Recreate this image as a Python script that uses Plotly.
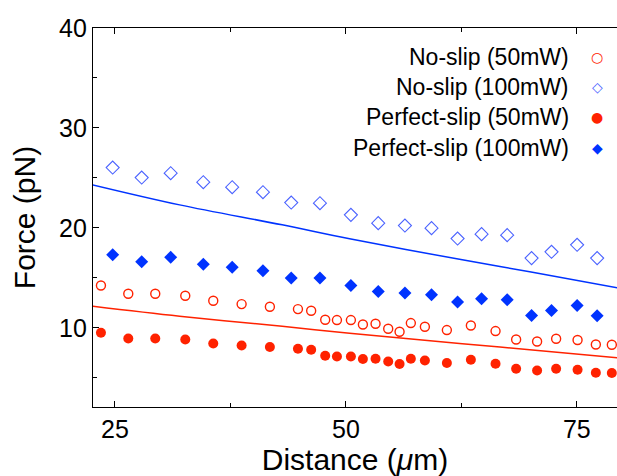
import plotly.graph_objects as go

# ---- data ----
dist_circ = [23.48, 26.44, 29.36, 32.61, 35.64, 38.71, 41.77, 44.81, 46.24, 47.76,
             49.03, 50.54, 51.84, 53.21, 54.58, 55.81, 57.03, 58.55, 60.93, 63.53,
             66.20, 68.43, 70.70, 72.76, 75.08, 77.06, 78.79]
noslip_50 = [14.23, 13.4, 13.4, 13.2, 12.7, 12.37, 12.1, 11.87, 11.7, 10.8,
             10.77, 10.77, 10.33, 10.4, 9.9, 9.6, 10.47, 10.1, 9.77, 10.23,
             9.67, 8.83, 8.63, 8.9, 8.77, 8.33, 8.3]
perfslip_50 = [9.5, 8.93, 8.93, 8.83, 8.43, 8.23, 8.07, 7.9, 7.8, 7.2,
               7.13, 7.13, 6.87, 6.9, 6.63, 6.37, 6.9, 6.73, 6.47, 6.8,
               6.4, 5.9, 5.73, 5.9, 5.8, 5.5, 5.47]

dist_diam = [24.75, 27.89, 31.03, 34.56, 37.69, 41.02, 44.08, 47.19, 50.54, 53.50,
             56.39, 59.27, 62.09, 64.69, 67.46, 70.10, 72.26, 75.03, 77.2]
noslip_100 = [26.03, 25.03, 25.47, 24.57, 24.07, 23.57, 22.53, 22.47, 21.3, 20.47,
              20.23, 19.97, 18.93, 19.37, 19.27, 16.97, 17.6, 18.3, 16.97]
perfslip_100 = [17.3, 16.6, 17.05, 16.35, 16.05, 15.7, 14.97, 14.97, 14.23, 13.63,
                13.47, 13.3, 12.57, 12.9, 12.8, 11.23, 11.73, 12.23, 11.2]

line_x = [22.6, 32.0, 43.1, 50.4, 62.6, 69.9, 79.4]
theory_100 = [24.3, 22.3, 20.3, 18.9, 16.8, 15.6, 14.0]
theory_50 = [12.15, 11.15, 10.15, 9.45, 8.4, 7.8, 7.0]

legend_labels = ["No-slip (50mW)", "No-slip (100mW)", "Perfect-slip (50mW)", "Perfect-slip (100mW)"]
legend_symbols = ["○", "◇", "●", "◆"]

RED = "#ff2200"
BLUE = "#0033ff"
LBLUE = "#4a62ff"
legend_colors = [RED, LBLUE, RED, BLUE]

fig = go.Figure()
fig.add_trace(go.Scatter(x=line_x, y=theory_100, mode="lines", line=dict(color=BLUE, width=1.5, shape="spline"), showlegend=False))
fig.add_trace(go.Scatter(x=line_x, y=theory_50, mode="lines", line=dict(color=RED, width=1.5, shape="spline"), showlegend=False))
fig.add_trace(go.Scatter(x=dist_diam, y=noslip_100, mode="markers",
                         marker=dict(symbol="diamond-open", size=10, color=LBLUE, line=dict(width=1.1, color=LBLUE)), showlegend=False))
fig.add_trace(go.Scatter(x=dist_diam, y=perfslip_100, mode="markers",
                         marker=dict(symbol="diamond", size=10, color=BLUE, line=dict(width=0)), showlegend=False))
fig.add_trace(go.Scatter(x=dist_circ, y=noslip_50, mode="markers",
                         marker=dict(symbol="circle-open", size=9, color=RED, line=dict(width=1.4, color=RED)), showlegend=False))
fig.add_trace(go.Scatter(x=dist_circ, y=perfslip_50, mode="markers",
                         marker=dict(symbol="circle", size=10, color=RED, line=dict(width=0)), showlegend=False))

FONT = "Liberation Sans, Arial, Helvetica, sans-serif"
row_y = [0.923, 0.844, 0.765, 0.683]
for lab, sym, col, yy in zip(legend_labels, legend_symbols, legend_colors, row_y):
    fig.add_annotation(xref="paper", yref="paper", x=0.912, y=yy, text=lab, showarrow=False,
                       xanchor="right", yanchor="middle", font=dict(family=FONT, size=23, color="black"))
    fig.add_annotation(xref="paper", yref="paper", x=0.962, y=yy, text=sym, showarrow=False,
                       xanchor="center", yanchor="middle", font=dict(family="DejaVu Sans", size=14, color=col))

axis_common = dict(showline=True, linecolor="black", linewidth=1.2, mirror="ticks", ticks="inside",
                   ticklen=6, tickwidth=1.2, tickcolor="black", showgrid=False, zeroline=False,
                   automargin=False, tickfont=dict(family=FONT, size=25, color="black"))

fig.update_xaxes(range=[22.62, 79.35], tickvals=[25, 50, 75], ticktext=["25", "50", "75"],
                 minor=dict(tickvals=[37.5, 62.5], ticks="inside", ticklen=4, tickwidth=1.2, tickcolor="black"),
                 title=dict(text="Distance (<i>μ</i>m)", font=dict(family=FONT, size=30, color="black"), standoff=6),
                 **axis_common)
ax_y = dict(axis_common)
ax_y["mirror"] = False
fig.update_yaxes(range=[2.07, 40], tickvals=[10, 20, 30, 40],
                 minor=dict(tickvals=[5, 15, 25, 35], ticks="inside", ticklen=4, tickwidth=1.2, tickcolor="black"),
                 title=dict(text="Force (pN)", font=dict(family=FONT, size=30, color="black"), standoff=14),
                 **ax_y)

fig.update_layout(width=617, height=476, margin=dict(l=93, r=0, t=28, b=69),
                  paper_bgcolor="white", plot_bgcolor="white", showlegend=False)

fig.write_html("out.html", config={"displayModeBar": False},
               post_script="document.body.style.margin='0';document.body.style.overflow='hidden';")
